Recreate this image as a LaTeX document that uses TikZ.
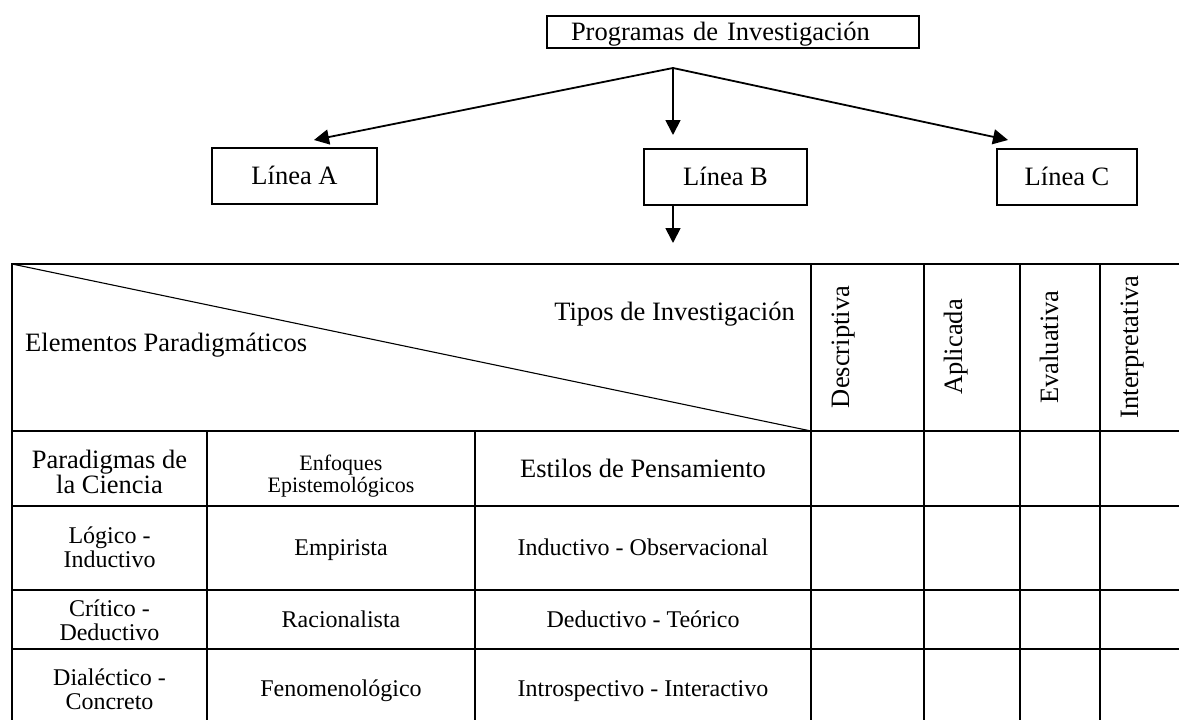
\documentclass[tikz,border=0pt]{standalone}
\usepackage{fontspec}
\setmainfont{Liberation Serif}
\usetikzlibrary{arrows.meta,calc}
\newcommand\fbig{\fontsize{26.5pt}{23pt}\selectfont}
\newcommand\fmid{\fontsize{24pt}{24pt}\selectfont}
\newcommand\fsml{\fontsize{22pt}{22pt}\selectfont}
\begin{document}
\begin{tikzpicture}[x=1pt,y=-1pt,
  box/.style={draw, line width=1.6pt, inner sep=0pt, font=\fbig, text height=17.5pt, text depth=0pt, minimum height=56pt},
  arr/.style={line width=1.8pt, -{Triangle[length=15pt,width=15pt]}},
  tl/.style={line width=2pt},
  rot/.style={rotate=90, anchor=base, font=\fbig, inner sep=0pt},
  onebig/.style={inner sep=0pt, font=\fbig, text height=17.5pt, text depth=0pt},
  onemid/.style={inner sep=0pt, font=\fmid, text height=15.9pt, text depth=0pt},
  twomid/.style={inner sep=0pt, font=\fmid, align=center},
]
\useasboundingbox (0,0) rectangle (1179,720);
\fill[white] (0,0) rectangle (1179,720);

% top boxes
\node[box, minimum height=32pt, text width=324pt, align=left, inner xsep=24pt] (prog) at (733,32) {Programas de Investigación};
\node[box, minimum width=165pt] (la) at (294.5,176) {Línea A};
\node[box, minimum width=163pt] (lb) at (725.5,177) {Línea B};
\node[box, minimum width=140pt] (lc) at (1067,177) {Línea C};

% connectors
\coordinate (j) at (673,68);
\coordinate (ta) at (314,140);
\coordinate (tb) at (673,135);
\coordinate (tc) at (1008,140);
\coordinate (bs) at (lb.south -| j);
\coordinate (td) at (673,243);
\draw[arr] (j) -- (ta);
\draw[arr] (j) -- (tb);
\draw[arr] (j) -- (tc);
\draw[arr] (bs) -- (td);

% table grid
\draw[tl] (11,264) -- (1182,264);
\draw[tl] (11,431) -- (1182,431);
\draw[tl] (11,506) -- (1182,506);
\draw[tl] (11,590) -- (1182,590);
\draw[tl] (11,649) -- (1182,649);
\draw[tl] (12,263) -- (12,722);
\draw[tl] (207,431) -- (207,722);
\draw[tl] (475,431) -- (475,722);
\draw[tl] (811,263) -- (811,722);
\draw[tl] (924,263) -- (924,722);
\draw[tl] (1020,263) -- (1020,722);
\draw[tl] (1100,263) -- (1100,722);
\draw[line width=1.1pt] (12,264) -- (811,431);

% header texts
\node[anchor=base west, font=\fbig, inner sep=0pt] (elem) at (25,351) {Elementos Paradigmáticos};
\node[anchor=base east, font=\fbig, inner sep=0pt] (tipos) at (795,320) {Tipos de Investigación};
\node[rot] (desc) at (849,347) {Descriptiva};
\node[rot] (apl) at (962,347) {Aplicada};
\node[rot] (eva) at (1058,347) {Evaluativa};
\node[rot] (itp) at (1138,347) {Interpretativa};

% row 1
\node[inner sep=0pt, font=\fbig, align=center] (par) at (109.5,472) {Paradigmas de\\la Ciencia};
\node[inner sep=0pt, font=\fsml, align=center] (enf) at (341,476) {Enfoques\\Epistemológicos};
\node[onebig] (est) at (643,468.5) {Estilos de Pensamiento};
% row 2
\node[twomid] (log) at (109.5,547) {Lógico -\\Inductivo};
\node[onemid] (emp) at (341,548) {Empirista};
\node[onemid] (ind) at (643,548) {Inductivo - Observacional};
% row 3
\node[twomid] (cri) at (109.5,620) {Crítico -\\Deductivo};
\node[onemid] (rac) at (341,620) {Racionalista};
\node[onemid] (ded) at (643,620) {Deductivo - Teórico};
% row 4
\node[twomid] (dia) at (109.5,689) {Dialéctico -\\Concreto};
\node[onemid] (fen) at (341,689) {Fenomenológico};
\node[onemid] (intr) at (643,689) {Introspectivo - Interactivo};
\end{tikzpicture}
\end{document}
